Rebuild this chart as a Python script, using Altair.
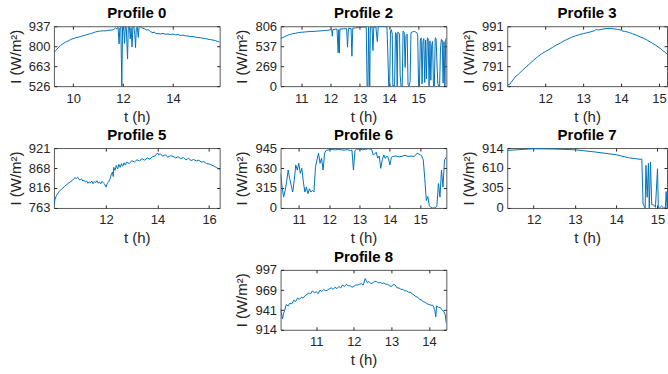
import altair as alt
import pandas as pd

FONT = "Liberation Sans"
BLUE = "#0072BD"
AX = "#262626"
FRAME = "#5a5a5a"

# ---------------- data ----------------
t0 = [9.23, 9.3, 9.4, 9.5, 9.6, 9.7, 9.8, 9.9, 10.0, 10.1, 10.2, 10.3, 10.4, 10.5, 10.6, 10.7,
      10.8, 10.9, 11.0, 11.1, 11.2, 11.3, 11.4, 11.5, 11.6, 11.65,
      11.70, 11.75, 11.80, 11.84, 11.87, 11.91, 11.95, 11.98, 12.02, 12.06, 12.09, 12.13, 12.18,
      12.21, 12.25, 12.29, 12.32, 12.36, 12.39, 12.43, 12.47, 12.50, 12.53, 12.57, 12.61, 12.64,
      12.68, 12.75, 12.85, 12.95, 13.0, 13.1, 13.2, 13.25, 13.3, 13.4, 13.5, 13.6, 13.7, 13.8,
      13.9, 14.0, 14.1, 14.2, 14.3, 14.4, 14.5, 14.6, 14.7, 14.8, 14.9, 15.0, 15.1, 15.2, 15.3,
      15.4, 15.5, 15.6, 15.7, 15.8, 15.87]
v0 = [755, 770, 790, 805, 818, 828, 836, 846, 852, 858, 862, 866, 872, 876, 882, 886,
      892, 898, 902, 904, 906, 905, 909, 910, 912, 918,
      925, 918, 930, 815, 925, 932, 526, 930, 935, 820, 932, 930, 712,
      930, 934, 850, 928, 795, 930, 935, 880, 790, 925, 930, 860, 932,
      935, 926, 920, 910, 915, 900, 892, 898, 888, 886, 884, 888, 882, 884,
      880, 883, 878, 880, 874, 876, 871, 870, 866, 867, 862, 860, 858, 855, 852,
      848, 845, 842, 838, 832, 828]

t2 = [10.29, 10.4, 10.5, 10.6, 10.7, 10.8, 10.9, 11.0, 11.1, 11.2, 11.3, 11.4, 11.5, 11.6, 11.7,
      11.8, 11.9, 12.0, 12.04, 12.06, 12.08, 12.15, 12.22, 12.26, 12.28, 12.3, 12.32, 12.45,
      12.55, 12.58, 12.61, 12.7, 12.73, 12.76, 12.85, 12.95, 13.05, 13.15, 13.22, 13.25, 13.28,
      13.3, 13.34, 13.36, 13.42, 13.45, 13.48, 13.55, 13.6, 13.63, 13.7, 13.78, 13.86, 13.9,
      13.93, 13.96, 13.99, 14.02, 14.05, 14.08, 14.11, 14.13, 14.16, 14.19, 14.22, 14.25, 14.28,
      14.3, 14.33, 14.36, 14.38, 14.41, 14.45, 14.48, 14.52, 14.55, 14.58, 14.62, 14.65, 14.68,
      14.72, 14.75, 14.8, 14.85, 14.9, 14.95, 14.98, 15.01, 15.04, 15.07, 15.1, 15.13, 15.16,
      15.19, 15.22, 15.25, 15.28, 15.31, 15.34, 15.37, 15.4, 15.43, 15.46, 15.49, 15.52, 15.55,
      15.58, 15.61, 15.64, 15.67, 15.7, 15.73, 15.76, 15.79, 15.82, 15.85, 15.88, 15.91, 15.94,
      15.96]
v2 = [640, 660, 680, 694, 705, 712, 720, 725, 728, 732, 735, 736, 739, 742, 745,
      748, 752, 758, 760, 672, 762, 765, 768, 450, 760, 445, 768, 772,
      774, 524, 775, 778, 403, 780, 784, 788, 792, 795, 797, 0, 0,
      795, 0, 790, 795, 480, 798, 796, 600, 798, 800, 802, 803, 806,
      780, 420, 0, 0, 740, 760, 700, 0, 10, 0, 720, 700, 0,
      730, 720, 700, 150, 0, 0, 740, 720, 250, 680, 700, 20, 0,
      60, 720, 730, 735, 730, 720, 690, 40, 0, 620, 650, 30, 600,
      640, 50, 620, 100, 650, 640, 0, 610, 80, 560, 600, 0, 0,
      650, 640, 300, 30, 0, 0, 500, 630, 620, 40, 600, 0, 630,
      650]

t3 = [11.0, 11.05, 11.08, 11.1, 11.15, 11.2, 11.3, 11.4, 11.5, 11.6, 11.7, 11.8, 11.9, 12.0,
      12.1, 12.2, 12.3, 12.4, 12.5, 12.6, 12.7, 12.8, 12.9, 13.0, 13.1, 13.2, 13.3, 13.35, 13.4,
      13.5, 13.6, 13.7, 13.8, 13.9, 14.0, 14.05, 14.1, 14.2, 14.3, 14.4, 14.5, 14.6, 14.7, 14.8,
      14.9, 15.0, 15.05, 15.1, 15.15, 15.21]
v3 = [695, 700, 702, 710, 722, 735, 752, 770, 788, 805, 822, 838, 852, 864,
      874, 886, 897, 907, 918, 927, 936, 943, 949, 954, 958, 963, 969, 975, 972,
      976, 979, 980, 978, 975, 972, 966, 966, 960, 954, 946, 938, 930, 920, 909,
      897, 884, 878, 868, 862, 852]

t5 = [9.98, 10.02, 10.06, 10.1, 10.15, 10.2, 10.3, 10.4, 10.5, 10.6, 10.7, 10.75, 10.8, 10.85,
      10.9, 10.95, 11.0, 11.05, 11.1, 11.15, 11.2, 11.25, 11.3, 11.35, 11.4, 11.45, 11.5, 11.55,
      11.6, 11.65, 11.7, 11.75, 11.8, 11.85, 11.9, 11.95, 12.0, 12.03, 12.06, 12.1, 12.15, 12.2,
      12.25, 12.28, 12.3, 12.35, 12.4, 12.45, 12.5, 12.55, 12.6, 12.65, 12.7, 12.75, 12.8, 12.9,
      13.0, 13.1, 13.2, 13.3, 13.4, 13.5, 13.6, 13.7, 13.8, 13.9, 13.95, 14.0, 14.05, 14.1, 14.2,
      14.3, 14.4, 14.5, 14.6, 14.7, 14.8, 14.9, 15.0, 15.1, 15.2, 15.3, 15.4, 15.5, 15.6, 15.7,
      15.8, 15.9, 16.0, 16.1, 16.2, 16.3, 16.41]
v5 = [772, 785, 793, 798, 803, 808, 814, 820, 826, 831, 836, 840, 843, 841,
      844, 838, 837, 840, 834, 836, 831, 834, 828, 832, 829, 834, 827, 833,
      830, 835, 828, 832, 827, 833, 829, 826, 818, 824, 828, 832, 838, 850,
      858, 846, 870, 862, 875, 866, 878, 870, 880, 873, 882, 876, 884, 880,
      888, 884, 890, 887, 893, 889, 895, 892, 898, 900, 904, 908, 903, 906, 900,
      903, 897, 901, 899, 895, 898, 893, 896, 890, 894, 888, 891, 887, 889, 884,
      885, 880, 879, 876, 873, 869, 864]

t6 = [10.4, 10.45, 10.5, 10.55, 10.6, 10.65, 10.7, 10.75, 10.8, 10.85, 10.9, 10.95, 11.0, 11.05,
      11.1, 11.15, 11.2, 11.25, 11.3, 11.35, 11.4, 11.45, 11.5, 11.55, 11.6, 11.65, 11.7, 11.75,
      11.8, 11.85, 11.9, 12.0, 12.1, 12.2, 12.3, 12.4, 12.5, 12.6, 12.7, 12.75, 12.8, 12.85, 12.9,
      13.0, 13.1, 13.2, 13.3, 13.4, 13.45, 13.5, 13.55, 13.6, 13.65, 13.7, 13.75, 13.8, 13.85,
      13.9, 13.95, 14.0, 14.05, 14.1, 14.2, 14.3, 14.4, 14.5, 14.6, 14.7, 14.8, 14.9, 15.0, 15.05,
      15.1, 15.15, 15.2, 15.25, 15.3, 15.35, 15.4, 15.45, 15.5, 15.55, 15.6, 15.65, 15.7, 15.75,
      15.8, 15.86]
v6 = [545, 331, 171, 277, 420, 598, 464, 357, 251, 438, 678, 598, 705, 545,
      625, 411, 251, 331, 224, 304, 251, 277, 251, 651, 758, 865, 705, 785,
      598, 865, 908, 918, 925, 915, 922, 918, 912, 920, 905, 915, 598, 905, 925,
      930, 918, 926, 935, 920, 838, 850, 880, 785, 820, 625, 760, 838, 780,
      820, 790, 678, 800, 812, 820, 805, 815, 830, 812, 820, 810, 865, 838, 820,
      758, 464, 117, 180, 37, 10, 0, 0, 0, 37, 385, 171, 598, 331,
      758, 800]

t7 = [11.36, 11.6, 12.0, 12.5, 13.0, 13.5, 14.0, 14.3, 14.6, 14.62, 14.65, 14.7, 14.72, 14.75,
      14.78, 14.8, 14.83, 14.86, 14.9, 14.95, 15.0, 15.02, 15.05, 15.1, 15.15, 15.19, 15.21,
      15.23]
v7 = [878, 888, 904, 899, 888, 853, 812, 766, 741, 745, 62, 0, 650, 163,
      680, 0, 700, 50, 50, 10, 598, 0, 0, 30, 0, 0, 250, 0]

t8 = [10.05, 10.08, 10.1, 10.13, 10.15, 10.2, 10.25, 10.3, 10.35, 10.4, 10.45, 10.5, 10.55, 10.6,
      10.65, 10.7, 10.75, 10.8, 10.85, 10.9, 10.95, 11.0, 11.05, 11.1, 11.15, 11.2, 11.25, 11.3,
      11.35, 11.4, 11.45, 11.5, 11.55, 11.6, 11.65, 11.7, 11.75, 11.8, 11.85, 11.9, 11.95, 12.0,
      12.05, 12.1, 12.15, 12.2, 12.25, 12.3, 12.33, 12.36, 12.4, 12.45, 12.5, 12.55, 12.6, 12.65,
      12.7, 12.75, 12.8, 12.85, 12.9, 12.95, 13.0, 13.05, 13.1, 13.15, 13.2, 13.25, 13.3, 13.35,
      13.4, 13.45, 13.5, 13.55, 13.6, 13.65, 13.7, 13.75, 13.8, 13.85, 13.9, 13.95, 14.0, 14.05,
      14.1, 14.15, 14.18, 14.2, 14.25, 14.3, 14.35, 14.4, 14.43, 14.46]
v8 = [942, 935, 929, 937, 939, 949, 947, 951, 950, 955, 953, 958, 956, 959,
      958, 961, 963, 965, 964, 968, 965, 967, 964, 969, 967, 970, 968, 969,
      971, 972, 970, 973, 971, 974, 972, 976, 974, 977, 975, 975, 973, 974,
      976, 976, 977, 978, 976, 985, 982, 979, 981, 978, 979, 981, 981, 979,
      980, 978, 979, 977, 977, 975, 974, 977, 976, 972, 972, 970, 970, 968,
      968, 966, 966, 964, 962, 960, 959, 956, 955, 953, 952, 950, 949, 948,
      948, 942, 932, 947, 945, 945, 941, 939, 935, 923]

# axis tick values
xt0 = [10, 12, 14]
yt0 = [526, 663, 800, 937]
xt2 = [11, 12, 13, 14, 15]
yt2 = [0, 269, 537, 806]
xt3 = [12, 13, 14, 15]
yt3 = [691, 791, 891, 991]
xt5 = [12, 14, 16]
yt5 = [763, 816, 868, 921]
xt6 = [11, 12, 13, 14, 15]
yt6 = [0, 315, 630, 945]
xt7 = [12, 13, 14, 15]
yt7 = [0, 305, 610, 914]
xt8 = [11, 12, 13, 14]
yt8 = [914, 941, 969, 997]

# axis ranges
xd0 = [9.23, 15.87]
xd2 = [10.29, 15.96]
xd3 = [11.0, 15.21]
xd5 = [9.98, 16.41]
xd6 = [10.4, 15.86]
xd7 = [11.36, 15.23]
xd8 = [10.05, 14.46]

TICK = 3


def panel(name, t, v, xdom, xticks, ydom, yticks, w):
    df = pd.DataFrame({"t": t, "v": v})
    xs = alt.Scale(domain=xdom, nice=False, zero=False)
    ys = alt.Scale(domain=[ydom[0], ydom[-1]], nice=False, zero=False)
    line = alt.Chart(df).mark_line(color=BLUE, strokeWidth=1, clip=True).encode(
        x=alt.X("t:Q", scale=xs, axis=alt.Axis(
            orient="bottom", values=xticks, title="t (h)", offset=-TICK, tickSize=TICK,
            domain=False, grid=False, labelPadding=6, titlePadding=4, format="d",
            labelFlush=False)),
        y=alt.Y("v:Q", scale=ys, axis=alt.Axis(
            orient="left", values=yticks, title="I (W/m²)", offset=-TICK, tickSize=TICK,
            domain=False, grid=False, labelPadding=4, titlePadding=5, format="d",
            labelFlush=False)),
    )
    box = alt.Chart(df).mark_line(opacity=0, clip=True).encode(
        x=alt.X("t:Q", scale=xs, axis=alt.Axis(
            orient="top", values=xticks, title=None, labels=False, offset=-TICK,
            tickSize=TICK, domain=False, grid=False)),
        y=alt.Y("v:Q", scale=ys, axis=alt.Axis(
            orient="right", values=yticks, title=None, labels=False, offset=-TICK,
            tickSize=TICK, domain=False, grid=False)),
    )
    return alt.layer(line, box).resolve_axis(x="independent", y="independent").properties(
        width=w, height=60, title=name)


blank = alt.Chart(pd.DataFrame({"t": [0.0]})).mark_point(opacity=0).encode(
    x=alt.X("t:Q", axis=None), y=alt.Y("t:Q", axis=None)
).properties(width=166, height=60, view=alt.ViewBackground(stroke="transparent"))

p0 = panel("Profile 0", t0, v0, xd0, xt0, yt0, yt0, 166)
p2 = panel("Profile 2", t2, v2, xd2, xt2, yt2, yt2, 166)
p3 = panel("Profile 3", t3, v3, xd3, xt3, yt3, yt3, 160)
p5 = panel("Profile 5", t5, v5, xd5, xt5, yt5, yt5, 166)
p6 = panel("Profile 6", t6, v6, xd6, xt6, yt6, yt6, 166)
p7 = panel("Profile 7", t7, v7, xd7, xt7, yt7, yt7, 160)
p8 = panel("Profile 8", t8, v8, xd8, xt8, yt8, yt8, 166)

chart = alt.concat(
    p0, p2, p3, p5, p6, p7, blank, p8,
    columns=3, spacing={"row": 62, "column": 61}, bounds="flush"
).properties(
    padding={"left": 7, "top": 5, "right": 0, "bottom": 0},
    background="white"
).configure_view(
    stroke=FRAME, strokeWidth=1
).configure_axis(
    labelFont=FONT, titleFont=FONT, labelFontSize=13, titleFontSize=15,
    labelColor=AX, titleColor=AX, tickColor=AX, titleFontWeight="normal"
).configure_title(
    font=FONT, fontSize=15, fontWeight="bold", color="#000000", offset=-1
)

chart.save("out.html", embed_options={"renderer": "svg", "actions": False})
